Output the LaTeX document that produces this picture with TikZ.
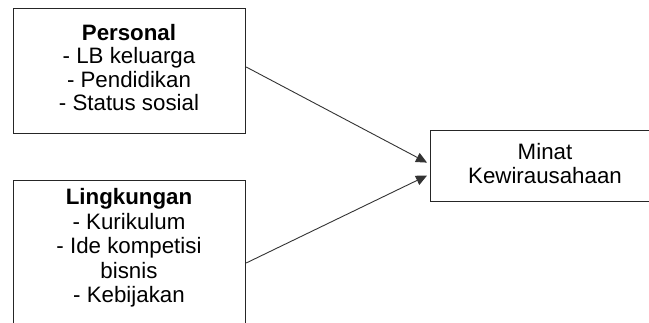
\documentclass[tikz,border=0pt]{standalone}
\usepackage{fontspec}
\setmainfont{Liberation Sans}
\usetikzlibrary{arrows.meta,calc}
\begin{document}
\begin{tikzpicture}[x=1pt,y=-1pt,
  box/.style={draw=black!85,line width=1.2pt,anchor=north west,inner sep=0pt},
  txt/.style={font=\fontsize{22.3}{23.5}\selectfont,align=center,anchor=base,inner sep=0pt},
  conn/.style={draw=black!80,line width=0.9pt,-{Triangle[length=11pt,width=10pt]}}]
\useasboundingbox (0,0) rectangle (649,323);
\clip (0,0) rectangle (649,323);
\fill[white] (0,0) rectangle (649,323);
\node[box,minimum width=232pt,minimum height=125pt] (pers) at (13,8) {};
\node[box,minimum width=232pt,minimum height=160pt] (ling) at (13,180) {};
\node[box,minimum width=240pt,minimum height=71pt] (minat) at (430,130) {};
\node[txt] (perst) at (129,111) {\textbf{Personal}\\- LB keluarga\\- Pendidikan\\- Status sosial};
\node[txt,font=\fontsize{22.3}{24.5}\selectfont] (lingt) at (129,303) {\textbf{Lingkungan}\\- Kurikulum\\- Ide kompetisi\\bisnis\\- Kebijakan};
\node[txt,font=\fontsize{22.3}{24}\selectfont] (minatt) at (545,184) {Minat\\Kewirausahaan};
\draw[conn] ([yshift=-59pt]pers.north east) -- ([xshift=-3pt,yshift=3.5pt]minat.west);
\draw[conn] ([yshift=-83pt]ling.north east) -- ([xshift=-3pt,yshift=-9.5pt]minat.west);
\end{tikzpicture}
\end{document}
